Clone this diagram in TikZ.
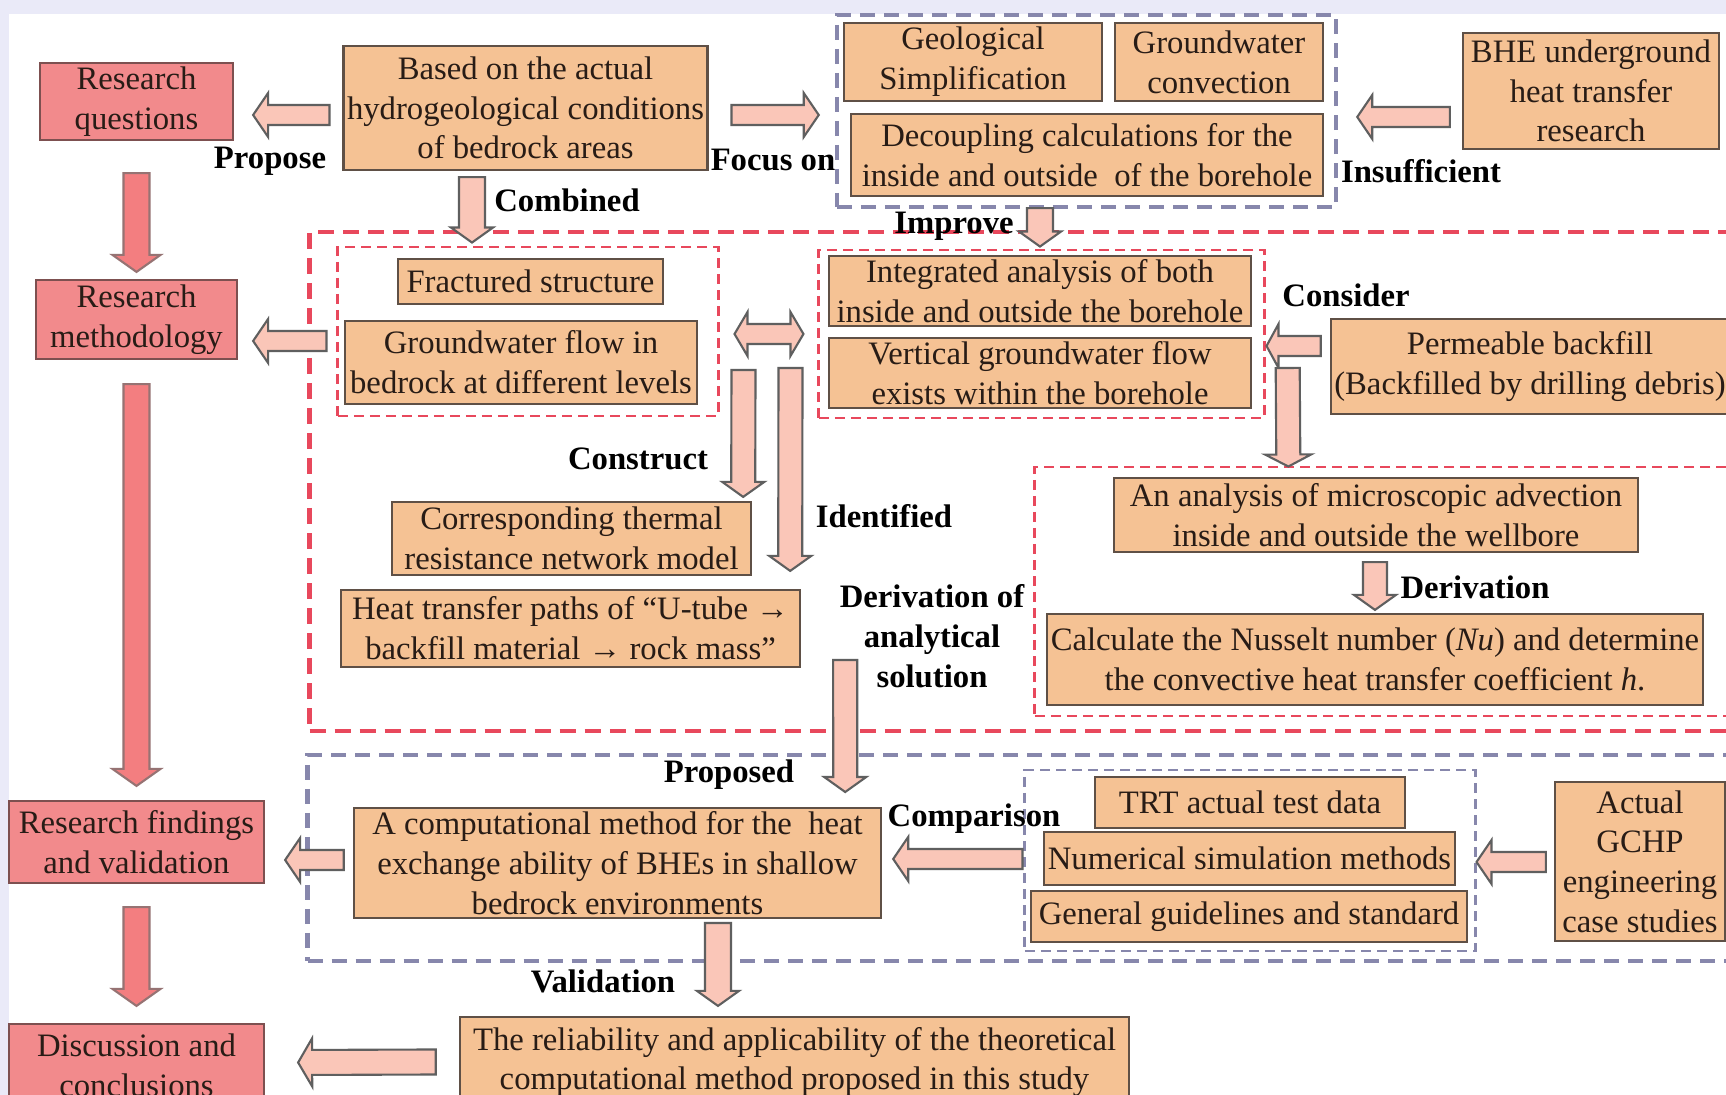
\documentclass[tikz,border=0pt]{standalone}
\usepackage{fontspec}
\setmainfont{Liberation Serif}
\usetikzlibrary{positioning,calc}

\definecolor{tanfill}{RGB}{245,194,148}
\definecolor{tanedge}{RGB}{95,80,70}
\definecolor{pinkfill}{RGB}{242,138,140}
\definecolor{pinkedge}{RGB}{125,80,80}
\definecolor{redarrow}{RGB}{243,126,128}
\definecolor{redarrowedge}{RGB}{150,115,115}
\definecolor{lightarrow}{RGB}{250,198,184}
\definecolor{arrowedge}{RGB}{95,95,95}
\definecolor{dashred}{RGB}{232,72,92}
\definecolor{dashgray}{RGB}{135,135,172}
\definecolor{lavbg}{RGB}{234,234,248}
\definecolor{inktext}{RGB}{40,28,22}

\newcommand{\diagfont}{\fontsize{9.3}{11.3}\selectfont}

\tikzset{
  blkw/.store in=\blkw, blkW/.store in=\blkW, blkh/.store in=\blkh,
  blkw=0.10cm, blkW=0.22cm, blkh=0.15cm
}

\begin{document}
\begin{tikzpicture}[
    x=0.01cm, y=-0.01cm,
    box/.style={rectangle, draw=tanedge, fill=tanfill, line width=0.6pt, align=center, inner sep=1pt, text=inktext, font=\diagfont},
    stage/.style={box, draw=pinkedge, fill=pinkfill},
    wh/.style 2 args={minimum width=#1cm, minimum height=#2cm},
    grpred/.style={rectangle, draw=dashred, line width=1.2pt, dash pattern=on 0.16cm off 0.09cm},
    grpredin/.style={rectangle, draw=dashred, line width=0.8pt, dash pattern=on 0.10cm off 0.06cm},
    grpgray/.style={rectangle, draw=dashgray, line width=1.2pt, dash pattern=on 0.15cm off 0.09cm},
    grpgrayin/.style={rectangle, draw=dashgray, line width=0.8pt, dash pattern=on 0.10cm off 0.06cm},
    lbl/.style={font=\diagfont\bfseries, text=black, inner sep=0pt, align=center},
    blk/.style={draw=arrowedge, fill=lightarrow, line width=0.6pt,
      to path={let \p1=($(\tikztotarget)!\blkh!(\tikztostart)$) in
        ($(\tikztostart)!\blkw!90:(\tikztotarget)$) -- ($(\p1)!\blkw!90:(\tikztotarget)$)
        -- ($(\p1)!\blkW!90:(\tikztotarget)$) -- (\tikztotarget)
        -- ($(\p1)!\blkW!-90:(\tikztotarget)$) -- ($(\p1)!\blkw!-90:(\tikztotarget)$)
        -- ($(\tikztostart)!\blkw!-90:(\tikztotarget)$) -- cycle}},
    blkboth/.style={draw=arrowedge, fill=lightarrow, line width=0.6pt,
      to path={let \p1=($(\tikztostart)!\blkh!(\tikztotarget)$), \p2=($(\tikztotarget)!\blkh!(\tikztostart)$) in
        (\tikztostart) -- ($(\p1)!\blkW!90:(\tikztotarget)$) -- ($(\p1)!\blkw!90:(\tikztotarget)$)
        -- ($(\p2)!\blkw!90:(\tikztotarget)$) -- ($(\p2)!\blkW!90:(\tikztotarget)$) -- (\tikztotarget)
        -- ($(\p2)!\blkW!-90:(\tikztotarget)$) -- ($(\p2)!\blkw!-90:(\tikztotarget)$)
        -- ($(\p1)!\blkw!-90:(\tikztotarget)$) -- ($(\p1)!\blkW!-90:(\tikztotarget)$) -- cycle}},
    vblk/.style={blk, blkw=0.13cm, blkW=0.21cm},
    redblk/.style={blk, fill=redarrow, draw=redarrowedge, blkw=0.13cm, blkW=0.24cm, blkh=0.17cm}
]
    \useasboundingbox (0,0) rectangle (1726,1095);
    \clip (0,0) rectangle (1726,1095);
    \fill[lavbg] (0,0) rectangle (1726,1095);
    \fill[white] (9,14) rectangle (1726,1095);

    % Dashed groups
    \node[grpgray, wh={4.99}{1.92}] (topgrp) at (1086.5,111) {};
    \node[grpred, wh={14.50}{4.99}] (bigred) at (1035,481.5) {};
    \node[grpredin, wh={3.80}{1.69}] (grpA) at (528,331.5) {};
    \node[grpredin, wh={4.45}{1.68}] (grpB) at (1041.5,334) {};
    \node[grpredin, wh={7.25}{2.49}] (grpC) at (1397.5,591.5) {};
    \node[grpgray, wh={14.52}{2.06}] (biggray) at (1034,858) {};
    \node[grpgrayin, wh={4.50}{1.81}] (grpD) at (1250,860.5) {};

    % Stages
    \node[stage, wh={1.93}{0.77}] (rq) at (136.5,101.5) {Research\\questions};
    \node[stage, wh={2.01}{0.79}] (rm) at (136.5,319.5) {Research\\methodology};
    \node[stage, wh={2.55}{0.82}] (rf) at (136.5,842) {Research findings\\and validation};
    \node[stage, wh={2.55}{0.82}] (dc) at (136.5,1065) {Discussion and\\conclusions};

    % Background
    \node[box, wh={3.61}{1.24}] (based) at (525.5,108) {Based on the actual\\hydrogeological conditions\\of bedrock areas};
    \node[box, wh={2.58}{0.78}] (geo) at (973,62) {Geological\\Simplification};
    \node[box, wh={2.08}{0.78}] (gwc) at (1219,62) {Groundwater\\convection};
    \node[box, wh={4.72}{0.82}] (dec) at (1087,155) {Decoupling calculations for the\\inside and outside~ of the borehole};
    \node[box, wh={2.56}{1.16}] (bhe) at (1591,91) {BHE underground\\heat transfer\\research};

    % Method
    \node[box, wh={2.65}{0.45}] (frac) at (530.5,281.5) {Fractured structure};
    \node[box, wh={3.52}{0.83}] (gwf) at (521,362.5) {Groundwater flow in\\bedrock at different levels};
    \node[box, wh={4.22}{0.70}] (integ) at (1040,291) {Integrated analysis of both\\inside and outside the borehole};
    \node[box, wh={4.22}{0.68}] (vert) at (1040,373) {Vertical groundwater flow\\exists within the borehole};
    \node[box, wh={3.96}{0.95}] (perm) at (1530,366.5) {Permeable backfill\\(Backfilled by drilling debris)};
    \node[box, wh={3.59}{0.73}] (corr) at (571.5,538.5) {Corresponding thermal\\resistance network model};
    \node[box, wh={4.59}{0.77}] (heat) at (570.5,628.5) {Heat transfer paths of “U-tube →\\backfill material → rock mass”};
    \node[box, wh={5.24}{0.74}] (micro) at (1376,515) {An analysis of microscopic advection\\inside and outside the wellbore};
    \node[box, wh={6.56}{0.91}] (nus) at (1375,659.5) {Calculate the Nusselt number (\textit{Nu}) and determine\\the convective heat transfer coefficient \textit{h}.};

    % Validation
    \node[box, wh={5.27}{1.06}] (comp) at (617.5,863) {A computational method for the~ heat\\exchange ability of BHEs in shallow\\bedrock environments};
    \node[box, wh={3.10}{0.51}] (trt) at (1250,802.5) {TRT actual test data};
    \node[box, wh={4.07}{0.53}] (num) at (1249.5,858.5) {Numerical simulation methods};
    \node[box, wh={4.36}{0.51}] (gen) at (1249,916.5) {General guidelines and standard};
    \node[box, wh={1.70}{1.59}] (gchp) at (1640,861.5) {Actual\\GCHP\\engineering\\case studies};
    \node[box, wh={6.69}{0.90}] (rel) at (794.5,1062) {The reliability and applicability of the theoretical\\computational method proposed in this study};

    % Arrows
    \draw[redblk] ([shift={(0,32)}]rq.south) to ([shift={(0,-7)}]rm.north);
    \draw[redblk] ([shift={(0,24)}]rm.south) to ([shift={(0,-14)}]rf.north);
    \draw[redblk] ([shift={(0,23)}]rf.south) to ([shift={(0,-17)}]dc.north);
    \draw[blk] ([shift={(-13,7)}]based.west) to ([shift={(19,13.5)}]rq.east);
    \draw[blk] ([shift={(23,7)}]based.east) to ([shift={(-16,4)}]topgrp.west);
    \draw[blk] ([shift={(-12,26)}]bhe.west) to ([shift={(19,6)}]topgrp.east);
    \draw[vblk] ([shift={(-53.5,6)}]based.south) to ([shift={(-56,-3)}]grpA.north);
    \draw[vblk] ([shift={(-46.5,-1)}]topgrp.south) to ([shift={(-1.5,-2)}]grpB.north);
    \draw[blk] ([shift={(-10,9.5)}]grpA.west) to ([shift={(15,21.5)}]rm.east);
    \draw[blkboth, blkh=0.13cm] ([shift={(15,2.5)}]grpA.east) to ([shift={(-14,0)}]grpB.west);
    \draw[blk, blkh=0.12cm] ([shift={(-9,-20.5)}]perm.west) to ([shift={(1,12)}]grpB.east);
    \draw[blk, blkw=0.12cm, blkW=0.23cm, blkh=0.12cm] ([shift={(-42,1.5)}]perm.west) to ([shift={(255,1)}]grpC.north west);
    \draw[vblk, blkw=0.12cm] ([shift={(24,38.5)}]grpA.east) to ([shift={(-9,-4)}]corr.north east);
    \draw[vblk, blkw=0.12cm] ([shift={(71,36.5)}]grpA.east) to ([shift={(-11,-18)}]heat.north east);
    \draw[vblk, blkw=0.12cm] ([shift={(44,31.5)}]heat.east) to ([shift={(-37,-15)}]comp.north east);
    \draw[vblk, blkw=0.12cm] ([shift={(-1,9)}]micro.south) to ([shift={(0,-3)}]nus.north);
    \draw[blk] ([shift={(-9,-3)}]comp.west) to ([shift={(20,18)}]rf.east);
    \draw[blk] ([shift={(-1,-1.5)}]grpD.west) to ([shift={(11,-4)}]comp.east);
    \draw[blk] ([shift={(-8,0.5)}]gchp.west) to ([shift={(0,1.5)}]grpD.east);
    \draw[vblk] ([shift={(100.5,4)}]comp.south) to ([shift={(-76.5,-10)}]rel.north);
    \draw[blk, blkw=0.125cm, blkW=0.24cm, blkh=0.14cm] ([shift={(-23,0)}]rel.west) to ([shift={(33,-2.5)}]dc.east);

    % Labels
    \node[lbl] (lpropose) at (270,161) {Propose};
    \node[lbl] (lfocus) at (773,160) {Focus on};
    \node[lbl] (lcombined) at (567,200) {Combined};
    \node[lbl] (limprove) at (954,226) {Improve};
    \node[lbl] (linsuff) at (1421,171) {Insufficient};
    \node[lbl] (lconsider) at (1346,295) {Consider};
    \node[lbl] (lconstruct) at (638,459) {Construct};
    \node[lbl] (lidentified) at (884,516) {Identified};
    \node[lbl] (lanalytic) at (932,636) {Derivation of\\analytical\\solution};
    \node[lbl] (lderiv) at (1475,587) {Derivation};
    \node[lbl] (lproposed) at (729,775) {Proposed};
    \node[lbl] (lcompare) at (974,819) {Comparison};
    \node[lbl] (lvalid) at (603,981) {Validation};
\end{tikzpicture}
\end{document}
